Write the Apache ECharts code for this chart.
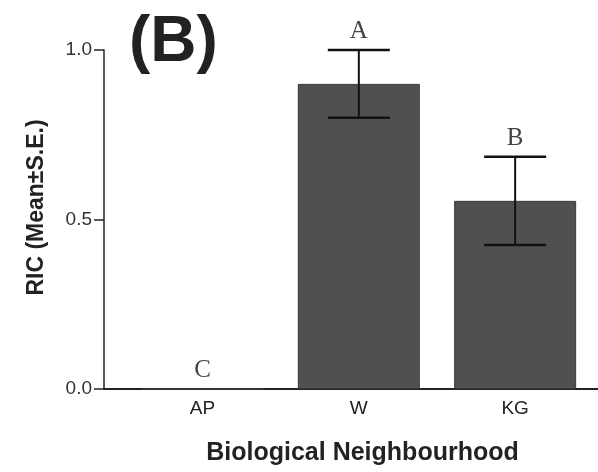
<!DOCTYPE html>
<html>
<head>
<meta charset="utf-8">
<script src="https://cdn.jsdelivr.net/npm/echarts@6/dist/echarts.min.js"></script>
<style>
  html, body { margin: 0; padding: 0; background: #fff; }
  #chart { width: 598px; height: 472px; }
</style>
</head>
<body>
<div id="chart"></div>
<script>
// Relative interaction coefficient by biological neighbourhood
const categories = ['AP', 'W', 'KG'];
const means = [0, 0.90, 0.555];
const stdErrors = [0, 0.10, 0.13];
const groupLetters = ['C', 'A', 'B'];

const positions = categories.map((_, i) => i);
const barData = positions.map((p, i) => [p, means[i]]);
const errData = positions.map((p, i) => [p, means[i], stdErrors[i]]);
const letterData = positions.map((p, i) => [p, means[i] + stdErrors[i]]);

const chart = echarts.init(document.getElementById('chart'), null, { renderer: 'canvas' });

chart.setOption({
  animation: false,
  backgroundColor: '#ffffff',
  title: {
    text: '(B)',
    left: 124,
    top: 6,
    textStyle: {
      fontFamily: 'Liberation Sans',
      fontWeight: 'bold',
      fontSize: 64,
      color: '#222'
    }
  },
  grid: { left: 104, right: 0, top: 50, bottom: 83 },
  xAxis: {
    type: 'value',
    min: -0.63,
    max: 2.53,
    splitLine: { show: false },
    axisLine: { show: true, onZero: false, lineStyle: { color: '#222', width: 2 } },
    axisTick: { show: false },
    axisLabel: {
      customValues: positions,
      formatter: v => categories[Math.round(v)],
      fontFamily: 'Liberation Sans',
      fontSize: 19,
      color: '#222',
      margin: 10
    },
    name: 'Biological Neighbourhood',
    nameLocation: 'middle',
    nameGap: 52,
    nameTextStyle: {
      fontFamily: 'Liberation Sans',
      fontWeight: 'bold',
      fontSize: 25,
      color: '#222',
      padding: [0, 0, 0, 23]
    }
  },
  yAxis: {
    type: 'value',
    min: 0,
    max: 1,
    interval: 0.5,
    splitLine: { show: false },
    axisLine: { show: true, onZero: false, lineStyle: { color: '#222', width: 1.5 } },
    axisTick: { show: true, length: 10, lineStyle: { color: '#222', width: 1.5 } },
    axisLabel: {
      formatter: v => v.toFixed(1),
      fontFamily: 'Liberation Sans',
      fontSize: 19,
      color: '#333',
      margin: 12
    },
    name: 'RIC (Mean\u00b1S.E.)',
    nameLocation: 'middle',
    nameRotate: 90,
    nameGap: 56,
    nameTextStyle: {
      fontFamily: 'Liberation Sans',
      fontWeight: 'bold',
      fontSize: 23,
      color: '#222',
      padding: [0, 0, 0, 24]
    }
  },
  series: [
    {
      type: 'bar',
      data: barData,
      barWidth: 122,
      itemStyle: { color: '#505050', borderColor: '#3a3a3a', borderWidth: 1 },
      z: 2
    },
    {
      type: 'custom',
      data: errData,
      z: 5,
      renderItem: function (params, api) {
        const x = api.value(0);
        const m = api.value(1);
        const se = api.value(2);
        if (!se) return null;
        const top = api.coord([x, m + se]);
        const bot = api.coord([x, m - se]);
        const capHalf = 31;
        const capStyle = { stroke: '#111', lineWidth: 2.5 };
        return {
          type: 'group',
          children: [
            { type: 'line', shape: { x1: top[0], y1: top[1], x2: bot[0], y2: bot[1] }, style: { stroke: '#111', lineWidth: 2 } },
            { type: 'line', shape: { x1: top[0] - capHalf, y1: top[1], x2: top[0] + capHalf, y2: top[1] }, style: capStyle },
            { type: 'line', shape: { x1: bot[0] - capHalf, y1: bot[1], x2: bot[0] + capHalf, y2: bot[1] }, style: capStyle }
          ]
        };
      }
    },
    {
      type: 'scatter',
      data: letterData,
      symbolSize: 0,
      z: 6,
      label: {
        show: true,
        position: 'top',
        distance: 6,
        formatter: p => groupLetters[p.dataIndex],
        fontFamily: 'Liberation Serif',
        fontSize: 25,
        color: '#111'
      }
    }
  ]
});
</script>
</body>
</html>
